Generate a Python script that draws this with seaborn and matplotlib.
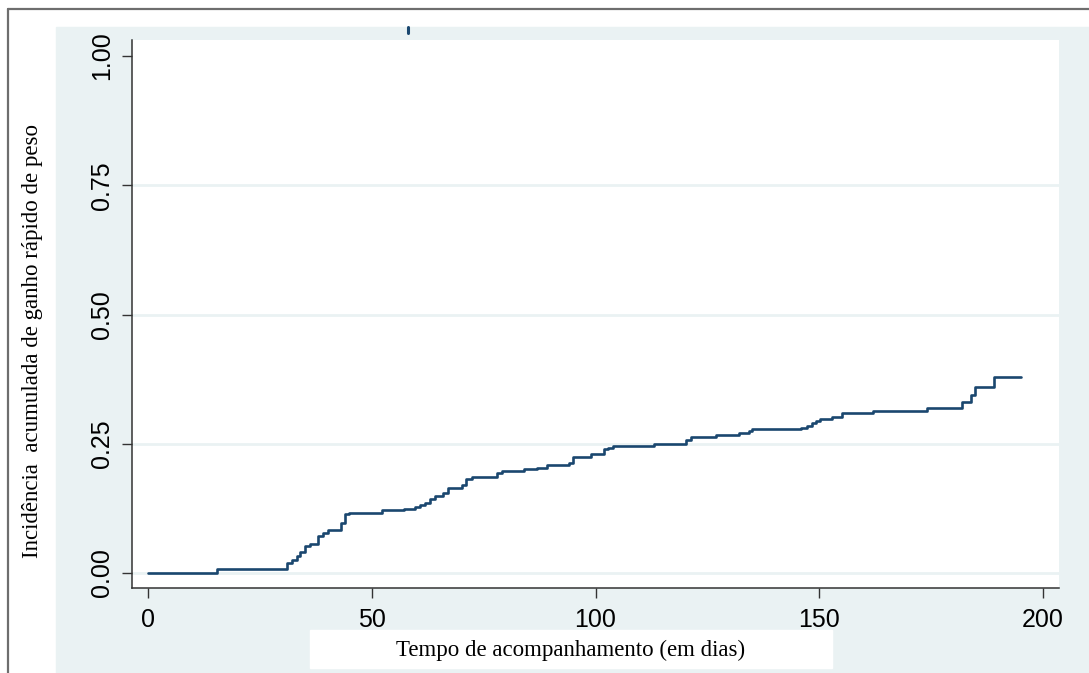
import numpy as np
import pandas as pd
import matplotlib
matplotlib.use("Agg")
import matplotlib.pyplot as plt
from matplotlib.lines import Line2D
from matplotlib.patches import Rectangle
import seaborn as sns

# Kaplan-Meier style cumulative incidence (step points)
days = [0, 15.3, 31.0, 32.1, 33.2, 34.0, 35.1, 36.2, 38.0, 39.2,
        40.2, 43.1, 44.0, 44.8, 52.2, 57.1, 59.7, 60.8, 61.9, 63.0,
        64.1, 66.0, 67.1, 70.1, 71.0, 72.3, 77.9, 79.0, 84.0, 87.0,
        89.1, 94.1, 95.0, 99.1, 101.9, 102.9, 104.0, 113.1, 120.2, 121.3,
        126.9, 132.0, 134.2, 134.9, 146.0, 147.2, 148.3, 149.2, 150.2, 152.9,
        155.0, 162.1, 174.0, 182.0, 184.0, 184.9, 189.0, 195.0]
incidence = [0, 0.007, 0.020, 0.025, 0.032, 0.040, 0.053, 0.057, 0.072, 0.077,
             0.083, 0.096, 0.114, 0.117, 0.121, 0.123, 0.128, 0.132, 0.135, 0.144,
             0.148, 0.154, 0.164, 0.170, 0.181, 0.186, 0.193, 0.197, 0.202, 0.204,
             0.208, 0.213, 0.224, 0.230, 0.239, 0.242, 0.246, 0.250, 0.257, 0.264,
             0.266, 0.270, 0.275, 0.279, 0.281, 0.284, 0.290, 0.294, 0.297, 0.301,
             0.309, 0.313, 0.319, 0.331, 0.344, 0.359, 0.380, 0.380]

x_ticks = [0, 50, 100, 150, 200]
y_ticks = [0.00, 0.25, 0.50, 0.75, 1.00]
y_tick_labels = ["0.00", "0.25", "0.50", "0.75", "1.00"]
stray_tick_day = 58.1

x_label = "Tempo de acompanhamento (em dias)"
y_label = "Incidência  acumulada de ganho rápido de peso"

NAVY = "#1a476f"
PANEL = "#eaf2f3"

df = pd.DataFrame({"dias": days, "incidencia": incidence})

sns.set_style("ticks")
plt.rcParams["font.family"] = ["Liberation Sans", "DejaVu Sans"]

W, H = 1089, 673
fig = plt.figure(figsize=(W / 100, H / 100), dpi=100)
fig.patch.set_facecolor("white")

# outer frame and light graph region (Stata-like)
fig.patches.append(Rectangle((56 / W, 0), 1 - 56 / W, (H - 27) / H,
                             transform=fig.transFigure, color=PANEL, zorder=-2))
fig.lines.append(Line2D([8 / W, 1], [1 - 9 / H, 1 - 9 / H], transform=fig.transFigure,
                        color="#6e6e6e", lw=1.6, zorder=-1))
fig.lines.append(Line2D([8 / W, 8 / W], [0, 1 - 9 / H], transform=fig.transFigure,
                        color="#6e6e6e", lw=1.6, zorder=-1))

ax = fig.add_axes([132 / W, (H - 588) / H, (1059 - 132) / W, (588 - 40) / H])
ax.set_zorder(2)
ax.set_facecolor("white")

sns.lineplot(data=df, x="dias", y="incidencia", ax=ax, color=NAVY, lw=1.9,
             drawstyle="steps-post", estimator=None, sort=True, zorder=3)

ax.plot([stray_tick_day, stray_tick_day], [1.044, 1.056], color=NAVY, lw=2.2,
        clip_on=False, zorder=5)

ax.set_xlim(-3.6, 203.6)
ax.set_ylim(-0.029, 1.031)
ax.set_xticks(x_ticks)
ax.set_xticklabels([str(t) for t in x_ticks])
ax.set_yticks(y_ticks)
ax.set_yticklabels(y_tick_labels, rotation=90, va="center")

ax.yaxis.grid(True, color=PANEL, lw=2)
ax.yaxis.get_gridlines()[-1].set_visible(False)
ax.set_axisbelow(True)

for side in ["top", "right"]:
    ax.spines[side].set_visible(False)
for side in ["left", "bottom"]:
    ax.spines[side].set_color("#333333")
    ax.spines[side].set_linewidth(1.1)

ax.tick_params(axis="both", direction="out", length=7.2, width=1.0, color="#333333",
               labelsize=18, labelcolor="black")
ax.tick_params(axis="y", pad=6)
ax.tick_params(axis="x", pad=7)
ax.set_xlabel("")
ax.set_ylabel("")

# axis titles in serif, x title on a white box
fig.patches.append(Rectangle((310 / W, 1 - 668 / H), (832 - 310) / W, (668 - 630) / H,
                             transform=fig.transFigure, color="white", zorder=1))
fig.text(571 / W, 1 - 650 / H, x_label, ha="center", va="center", fontsize=16.5,
         color="black", family=["Liberation Serif", "DejaVu Serif"], zorder=2)
fig.text(33 / W, 1 - 341 / H, y_label, ha="center", va="center", rotation=90,
         fontsize=16.5, color="black", family=["Liberation Serif", "DejaVu Serif"])

fig.savefig("out.png", dpi=100)
